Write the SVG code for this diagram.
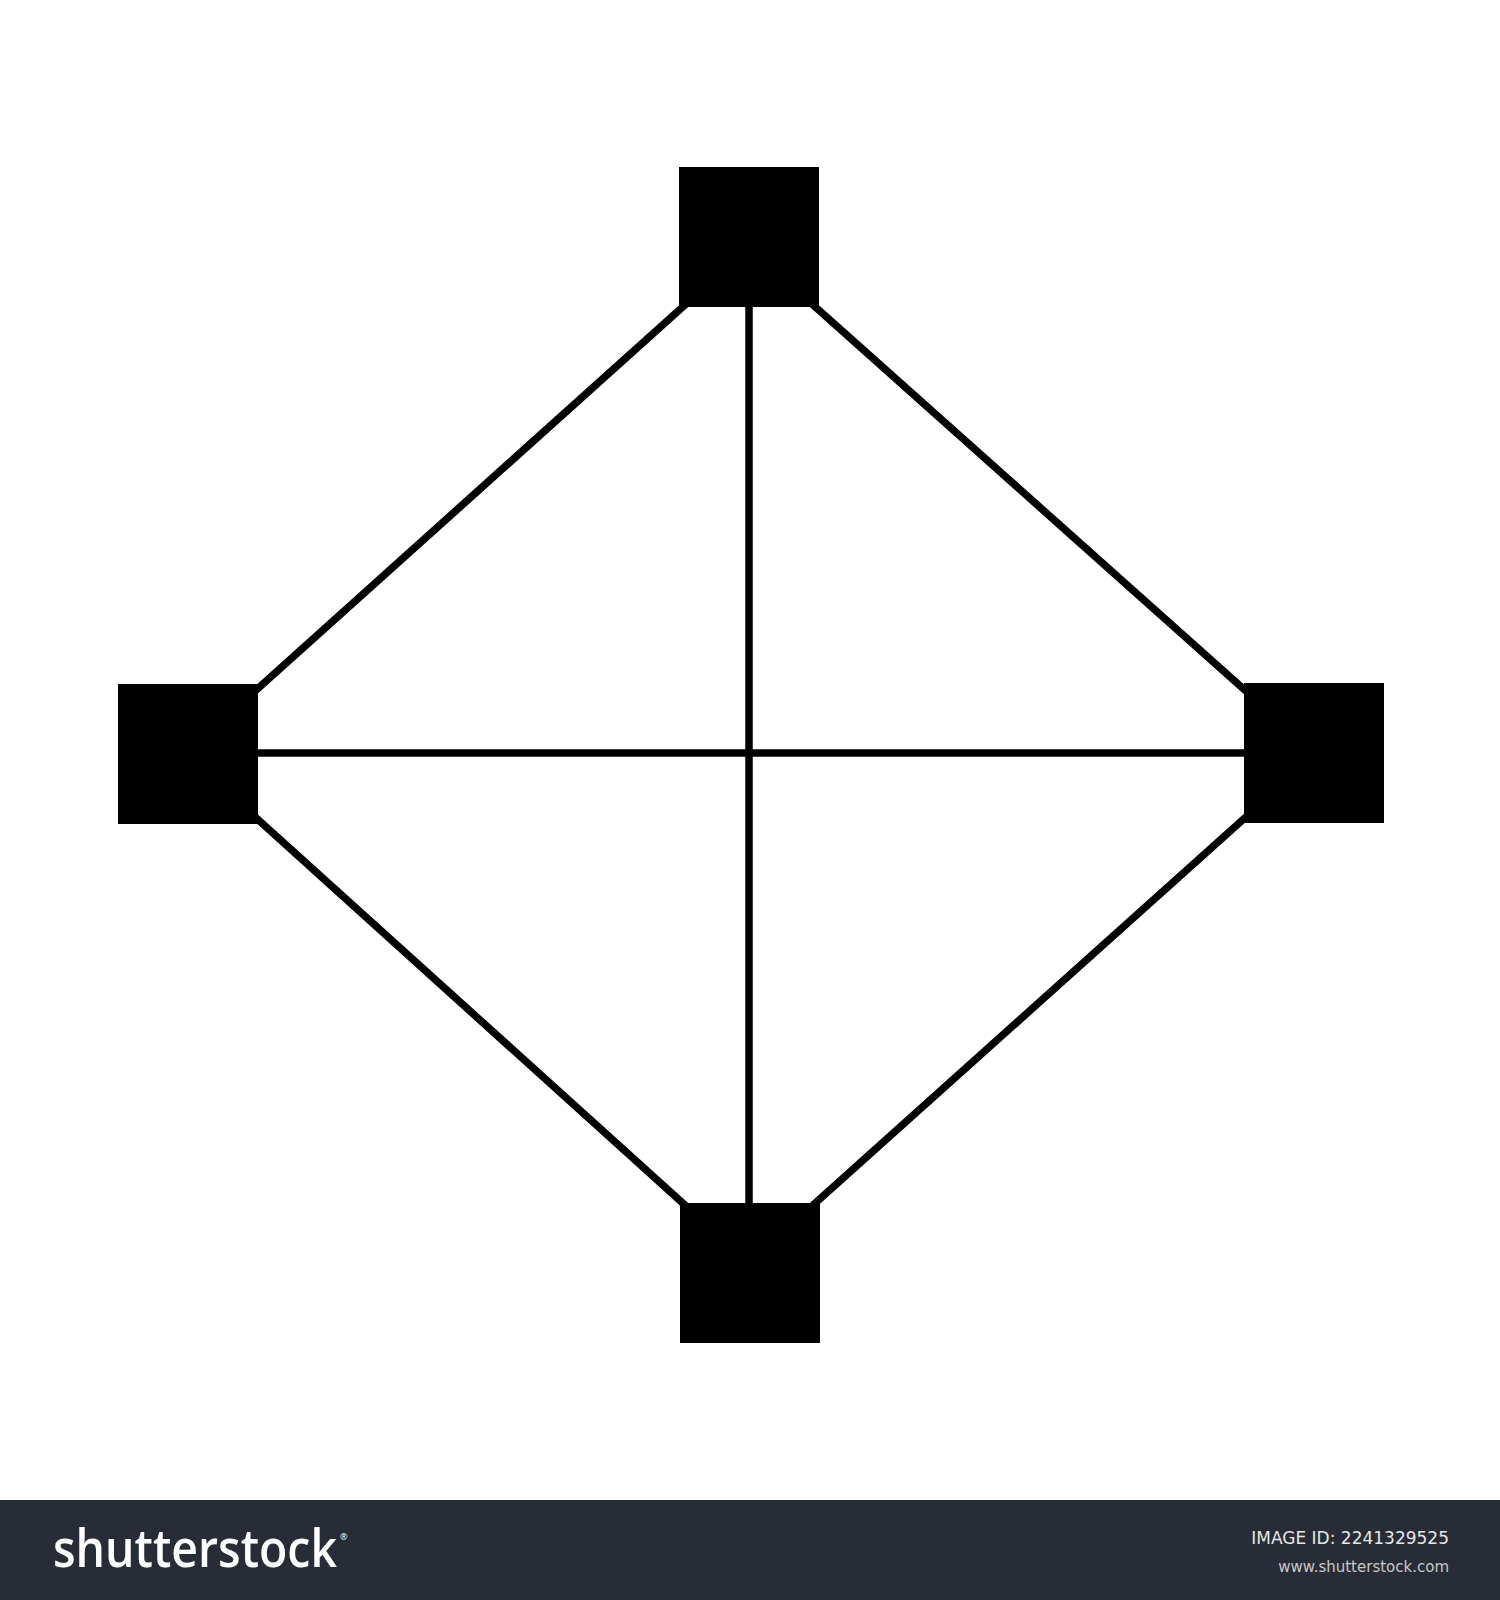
<svg xmlns="http://www.w3.org/2000/svg" width="1500" height="1600" viewBox="0 0 1500 1600">
<style>
.node{fill:#000}
.edge{stroke:#000;stroke-width:7.5;fill:none;stroke-linecap:butt}
.logo{font-family:"Open Sans","DejaVu Sans",sans-serif;font-weight:600;fill:#fff}
.meta{font-family:"DejaVu Sans",sans-serif;text-anchor:end}
</style>
<rect width="1500" height="1600" fill="#fff"/>
<g id="connectors">
<line class="edge" x1="749" y1="300" x2="749" y2="1210"/>
<line class="edge" x1="250" y1="753" x2="1250" y2="753"/>
<line class="edge" x1="686" y1="304" x2="254" y2="692"/>
<line class="edge" x1="812" y1="304" x2="1247" y2="692"/>
<line class="edge" x1="254" y1="816" x2="686" y2="1206"/>
<line class="edge" x1="1247" y1="816" x2="812" y2="1206"/>
</g>
<g id="node-top"><rect class="node" x="679" y="167" width="140" height="140"/></g>
<g id="node-left"><rect class="node" x="118" y="684" width="140" height="140"/></g>
<g id="node-right"><rect class="node" x="1244" y="683" width="140" height="140"/></g>
<g id="node-bottom"><rect class="node" x="680" y="1203" width="140" height="140"/></g>
<g id="banner">
<rect x="0" y="1500" width="1500" height="100" fill="#272c36"/>
<text class="logo" x="53" y="1567" font-size="52"><tspan textLength="284" lengthAdjust="spacingAndGlyphs">shutterstock</tspan><tspan font-size="9" font-weight="400" dx="3" dy="-27">®</tspan></text>
<text class="meta" x="1449" y="1544" font-size="17" fill="#e6e6e6">IMAGE ID: 2241329525</text>
<text class="meta" x="1449" y="1572" font-size="15" fill="#c8c8c8">www.shutterstock.com</text>
</g>
</svg>
